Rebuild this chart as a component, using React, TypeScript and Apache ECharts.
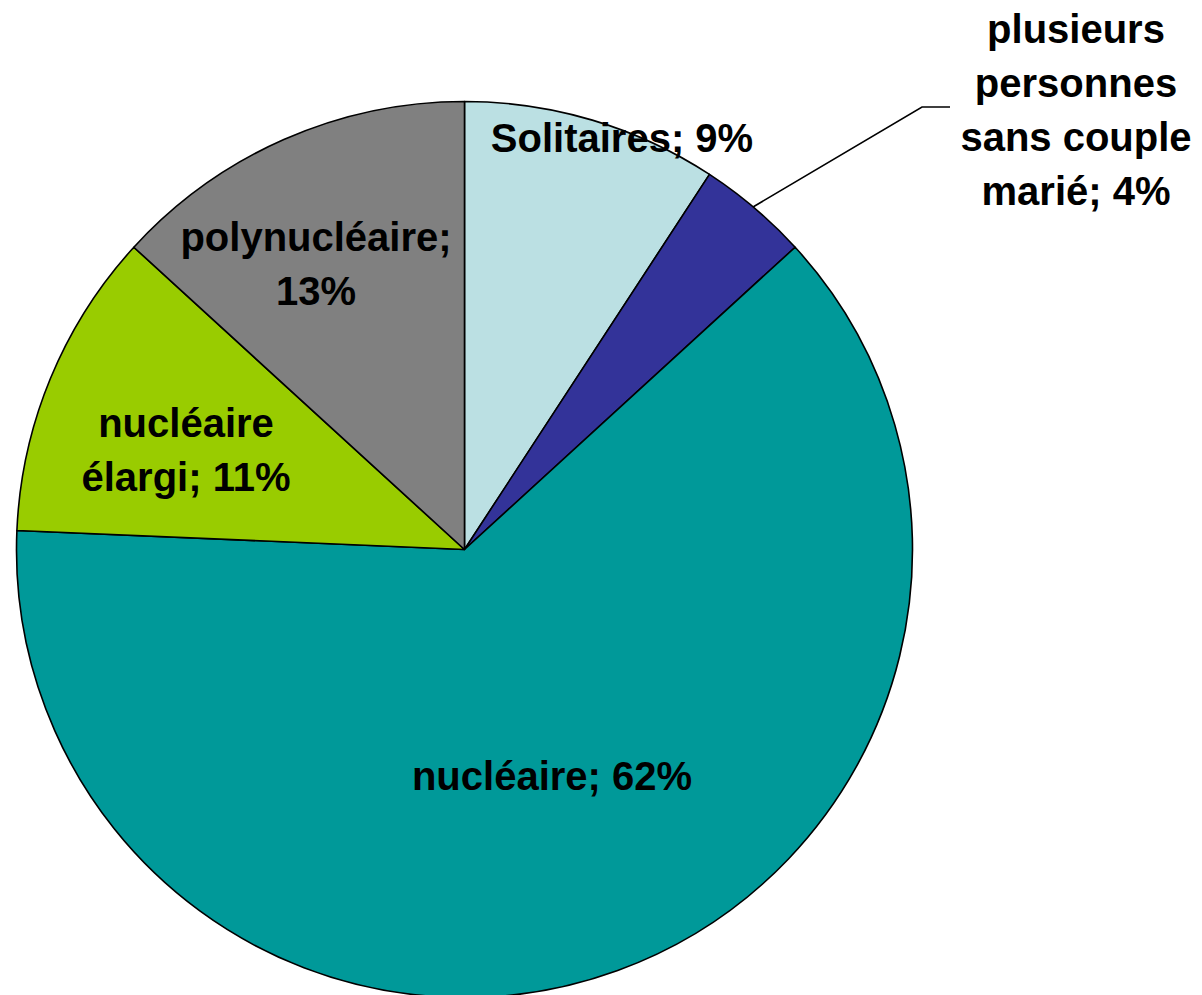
import React, { useEffect, useRef } from "react";
import * as echarts from "echarts";

const categories = [
  "Solitaires",
  "plusieurs personnes sans couple marié",
  "nucléaire",
  "nucléaire élargi",
  "polynucléaire",
];
const displayNames = [
  "Solitaires",
  "plusieurs\npersonnes\nsans couple\nmarié",
  "nucléaire",
  "nucléaire\nélargi",
  "polynucléaire",
];
const values = [9.2, 4.0, 62.4, 11.1, 13.2];
const colors = ["#BBE0E3", "#333399", "#009999", "#99CC00", "#808080"];

export default function App() {
  const ref = useRef<HTMLDivElement>(null);
  useEffect(() => {
    if (!ref.current) return;
    const chart = echarts.init(ref.current, undefined, { renderer: "svg" });
    const labelPos: Record<number, [number, number]> = {
      0: [622, 138],
      1: [1076, 110],
      2: [552, 776],
      3: [186, 450],
      4: [316, 264],
    };
    chart.setOption({
      animation: false,
      backgroundColor: "#ffffff",
      series: [
        {
          type: "pie",
          center: [464.5, 549.5],
          radius: 448,
          startAngle: 90,
          clockwise: true,
          avoidLabelOverlap: false,
          itemStyle: { borderColor: "#000000", borderWidth: 1.6 },
          label: {
            show: true,
            position: "inside",
            color: "#000000",
            fontFamily: "'Liberation Sans', Arial, sans-serif",
            fontWeight: "bold",
            fontSize: 40,
            lineHeight: 54,
            align: "center",
            formatter: (p: any) =>
              displayNames[p.dataIndex] +
              (p.dataIndex === 4 ? ";\n" : "; ") +
              Math.round(p.percent) +
              "%",
          },
          labelLine: { show: false },
          labelLayout: (params: any) => {
            const pos = labelPos[params.dataIndex];
            const res: any = {
              x: pos[0],
              y: pos[1],
              align: "center",
              verticalAlign: "middle",
            };
            if (params.dataIndex === 1) {
              res.labelLinePoints = [
                [753, 207],
                [922, 107],
                [950, 107],
              ];
            }
            return res;
          },
          data: categories.map((name, i) => ({
            name,
            value: values[i],
            itemStyle: { color: colors[i] },
            ...(i === 1
              ? {
                  label: { position: "outside" },
                  labelLine: {
                    show: true,
                    lineStyle: { color: "#000000", width: 1.6 },
                  },
                }
              : {}),
          })),
        },
      ],
    });
    return () => chart.dispose();
  }, []);
  return (
    <div
      ref={ref}
      style={{ position: "absolute", left: 0, top: 0, width: 1202, height: 995 }}
    />
  );
}
